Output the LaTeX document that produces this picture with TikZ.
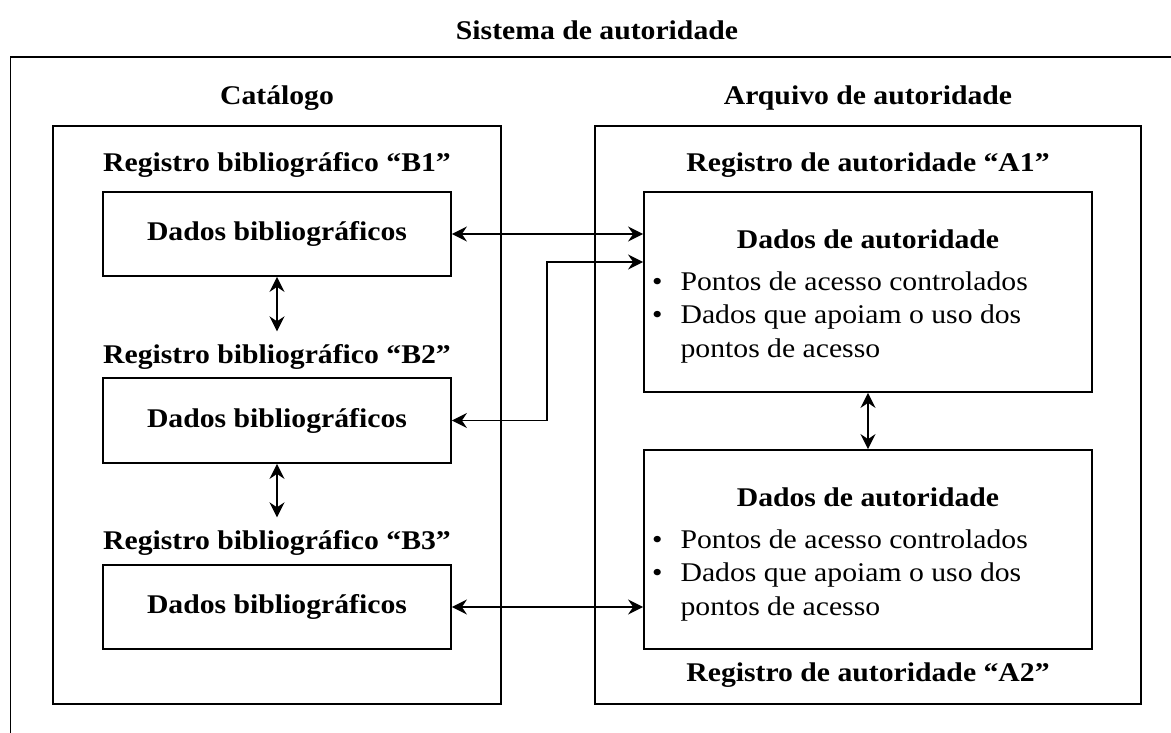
\documentclass[tikz,border=0pt]{standalone}
\usepackage{fontspec}
\setmainfont{Liberation Serif}[FakeStretch=1.1]
\usetikzlibrary{arrows.meta,calc}
\begin{document}
\begin{tikzpicture}[x=1pt,y=-1pt,
  >={Stealth[length=15pt,width=15pt,inset=5pt]},
  frame/.style={draw,line width=1.8pt,inner sep=0pt},
  lbl/.style={font=\fontsize{27}{30}\selectfont\bfseries,inner sep=0pt},
  boxtxt/.style={frame,font=\fontsize{27}{30}\selectfont\bfseries},
  arr/.style={<->,line width=1.6pt},
  bul/.style={font=\fontsize{27}{33.5}\selectfont,inner sep=0pt,anchor=base west}
]
\path[use as bounding box] (0,0) rectangle (1171,733);
% title and outer frame
\node[lbl] (title) at (597,30) {Sistema de autoridade};
\coordinate (oTL) at (10.5,57);
\draw[line width=1.8pt] (oTL |- 0,733) -- (oTL) -- (1171,57);
% catalogue
\node[frame,minimum width=448pt,minimum height=578pt] (cat) at (277,415) {};
\node[lbl] (catl) at (277,98) {Catálogo};
\node[lbl] (lb1) at (277,165) {Registro bibliográfico “B1”};
\node[boxtxt,minimum width=348pt,minimum height=84pt] (b1) at (277,234) {Dados bibliográficos};
\node[lbl] (lb2) at (277,357) {Registro bibliográfico “B2”};
\node[boxtxt,minimum width=348pt,minimum height=85pt] (b2) at (277,420.5) {Dados bibliográficos};
\node[lbl] (lb3) at (277,543) {Registro bibliográfico “B3”};
\node[boxtxt,minimum width=348pt,minimum height=84pt] (b3) at (277,607) {Dados bibliográficos};
% authority file
\node[frame,minimum width=546pt,minimum height=578pt] (arq) at (868,415) {};
\node[lbl] (arql) at (868,98) {Arquivo de autoridade};
\node[lbl] (la1) at (868,165) {Registro de autoridade “A1”};
\node[frame,minimum width=448pt,minimum height=200pt] (a1) at (868,292) {};
\node[lbl] (a1t) at (868,239) {Dados de autoridade};
\node[bul] (a1b) at (652,290) {\begin{tabular}[t]{@{}l@{\hspace{18pt}}l@{}}
\textbullet & Pontos de acesso controlados\\
\textbullet & Dados que apoiam o uso dos\\
 & pontos de acesso\end{tabular}};
\node[frame,minimum width=448pt,minimum height=199pt] (a2) at (868,549.5) {};
\node[lbl] (a2t) at (868,497) {Dados de autoridade};
\node[bul] (a2b) at (652,548) {\begin{tabular}[t]{@{}l@{\hspace{18pt}}l@{}}
\textbullet & Pontos de acesso controlados\\
\textbullet & Dados que apoiam o uso dos\\
 & pontos de acesso\end{tabular}};
\node[lbl] (la2) at (868,675) {Registro de autoridade “A2”};
% connectors
\draw[arr,shorten >=13pt] (b1.south) -- (lb2.north);
\draw[arr,shorten >=13pt] (b2.south) -- (lb3.north);
\draw[arr] (a1.south) -- (a2.north);
\draw[arr] (b1.east) -- (b1.east -| a1.west);
\coordinate (bend) at (547,262);
\draw[arr] (b2.east) -| (bend) -- (bend -| a1.west);
\draw[arr] (b3.east) -- (b3.east -| a2.west);
\end{tikzpicture}
\end{document}
